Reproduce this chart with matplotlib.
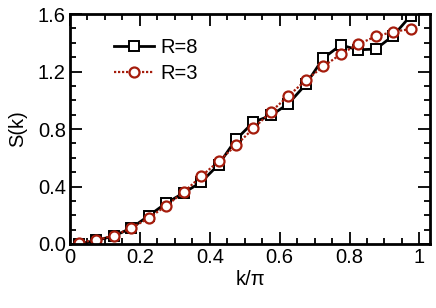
import matplotlib
matplotlib.use("Agg")
import matplotlib.pyplot as plt
import numpy as np
from matplotlib.ticker import MultipleLocator

plt.rcParams['font.family'] = ['Liberation Sans', 'DejaVu Sans']

k = [0.025, 0.075, 0.125, 0.175, 0.225, 0.275, 0.325, 0.375, 0.425, 0.475,
     0.525, 0.575, 0.625, 0.675, 0.725, 0.775, 0.825, 0.875, 0.925, 0.975]
s_r8 = [0.0, 0.025, 0.055, 0.11, 0.196, 0.284, 0.355, 0.43, 0.552, 0.727,
        0.848, 0.894, 0.976, 1.111, 1.293, 1.384, 1.351, 1.356, 1.449, 1.588]
s_r3 = [0.01, 0.028, 0.058, 0.11, 0.18, 0.266, 0.36, 0.47, 0.575, 0.687,
        0.804, 0.92, 1.03, 1.139, 1.235, 1.321, 1.39, 1.444, 1.477, 1.495]

xticks = [0, 0.2, 0.4, 0.6, 0.8, 1.0]
xticklabels = ["0", "0.2", "0.4", "0.6", "0.8", "1"]
yticks = [0.0, 0.4, 0.8, 1.2, 1.6]
yticklabels = ["0.0", "0.4", "0.8", "1.2", "1.6"]

red = "#a51c0c"
fs = 14.5

fig = plt.figure(figsize=(4.36, 3.08), dpi=100)
ax = fig.add_axes([0.1606, 0.2078, 0.8254, 0.7467])

ax.plot(k, s_r8, color="black", lw=2.0, marker="s", ms=6.8, mfc="white",
        mec="black", mew=1.4, label="R=8")
ax.plot(k, s_r3, color=red, lw=1.6, ls=(0, (1, 0.8)), marker="o", ms=7.2,
        mfc="white", mec=red, mew=1.6, label="R=3")

ax.set_xlim(0, 1.03)
ax.set_ylim(0, 1.6)
ax.set_xticks(xticks)
ax.set_xticklabels(xticklabels)
ax.set_yticks(yticks)
ax.set_yticklabels(yticklabels)
ax.xaxis.set_minor_locator(MultipleLocator(0.05))
ax.yaxis.set_minor_locator(MultipleLocator(0.1))
ax.tick_params(which="both", direction="in", top=True, right=True,
               labelsize=fs, width=1.3)
ax.tick_params(which="major", length=8.5, pad=3)
ax.tick_params(which="minor", length=4.3)
for sp in ax.spines.values():
    sp.set_linewidth(2.0)

ax.set_xlabel("k/\u03c0", fontsize=fs, labelpad=2)
ax.set_ylabel("S(k)", fontsize=fs, labelpad=8)

ax.legend(loc="upper left", bbox_to_anchor=(0.1, 0.93), frameon=False,
          fontsize=fs, handlelength=2.0, handletextpad=0.3, labelspacing=0.35,
          borderaxespad=0)

fig.savefig("out.png", dpi=100)
